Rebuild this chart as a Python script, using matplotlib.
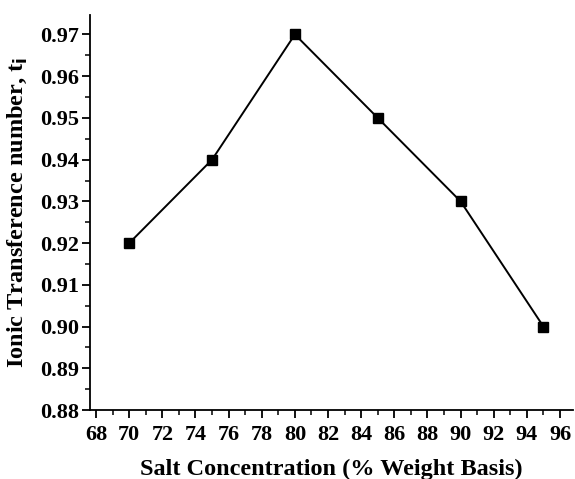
import matplotlib.pyplot as plt
from matplotlib.ticker import MultipleLocator

# salt concentration vs ionic transference number
salt_conc = [70, 75, 80, 85, 90, 95]
t_ion = [0.92, 0.94, 0.97, 0.95, 0.93, 0.90]

plt.rcParams['font.family'] = 'Liberation Serif'
plt.rcParams['font.weight'] = 'bold'

fig = plt.figure(figsize=(5.75, 4.79), dpi=100)
ax = fig.add_axes([0.157, 0.144, 0.84, 0.825])

ax.plot(salt_conc, t_ion, color='black', lw=1.4, marker='s', ms=6.5)

ax.set_xlim(67.65, 96.8)
ax.set_ylim(0.88, 0.9747)
ax.xaxis.set_major_locator(MultipleLocator(2))
ax.xaxis.set_minor_locator(MultipleLocator(1))
ax.yaxis.set_major_locator(MultipleLocator(0.01))
ax.yaxis.set_minor_locator(MultipleLocator(0.005))
ax.yaxis.set_major_formatter(plt.FormatStrFormatter('%.2f'))

for s in ['top', 'right']:
    ax.spines[s].set_visible(False)
for s in ['left', 'bottom']:
    ax.spines[s].set_linewidth(1.3)

ax.tick_params(which='major', direction='out', length=6, width=1.3, labelsize=16)
ax.tick_params(which='minor', direction='out', length=3.5, width=1.1)
ax.tick_params(axis='x', pad=5)
ax.tick_params(axis='y', pad=2)

ax.set_xlabel('Salt Concentration (% Weight Basis)', fontsize=17.5, fontweight='bold', labelpad=10)
ax.set_ylabel(r'Ionic Transference number, t$_\mathbf{i}$', fontsize=17.5, fontweight='bold', labelpad=8)

fig.savefig('out.png', dpi=100)
